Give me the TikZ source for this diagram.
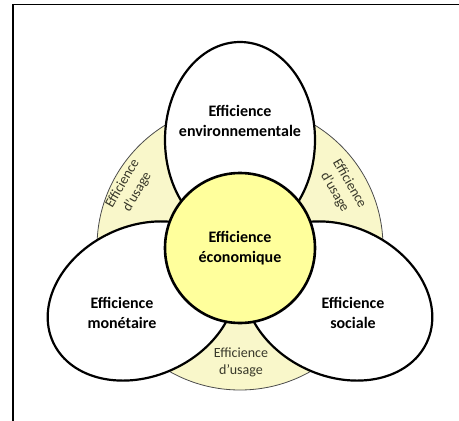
\documentclass[tikz,border=0pt]{standalone}
\usepackage{fontspec}
\setmainfont{Carlito}
\definecolor{paleyellow}{HTML}{F9F7CA}
\definecolor{coreyellow}{HTML}{FFFF9C}
\definecolor{usagegray}{HTML}{38382A}
\begin{document}
\begin{tikzpicture}
    [
    x=1pt,y=-1pt,
    halo/.style={draw=black!70,line width=0.8pt,fill=paleyellow},
    petal/.style={draw=black,line width=2.2pt,fill=white},
    core/.style={draw=black,line width=2.6pt,fill=coreyellow},
    title/.style={align=center,font=\bfseries\fontsize{16}{20}\selectfont},
    usage/.style={align=center,text=usagegray,font=\fontsize{14}{17}\selectfont}
    ]
    \useasboundingbox (0,0) rectangle (459,421);
    \draw [line width=1.2pt] (13,421) -- (13,4.5) -- (459,4.5);
    % shapes
    \draw [halo] (240,247) circle (143pt);
    \draw [petal] (240,140) ellipse [x radius=75pt, y radius=98pt];
    \draw [petal, rotate around={-65:(142,301)}] (142,301) ellipse [x radius=75pt, y radius=98pt];
    \draw [petal, rotate around={65:(338,301)}] (338,301) ellipse [x radius=75pt, y radius=98pt];
    \draw [core] (240,248) circle (75pt);
    % labels
    \node (env) at (240,121) [title] {Efficience\\environnementale};
    \node (mon) at (122,313) [title] {Efficience\\monétaire};
    \node (soc) at (353,313) [title] {Efficience\\sociale};
    \node (eco) at (240,248) [title] {Efficience\\économique};
    \node (useL) at (130,188) [usage,rotate=60] {Efficience\\d’usage};
    \node (useR) at (342,188) [usage,rotate=-60] {Efficience\\d’usage};
    \node (useB) at (241,362) [usage] {Efficience\\d’usage};
  \end{tikzpicture}
\end{document}
